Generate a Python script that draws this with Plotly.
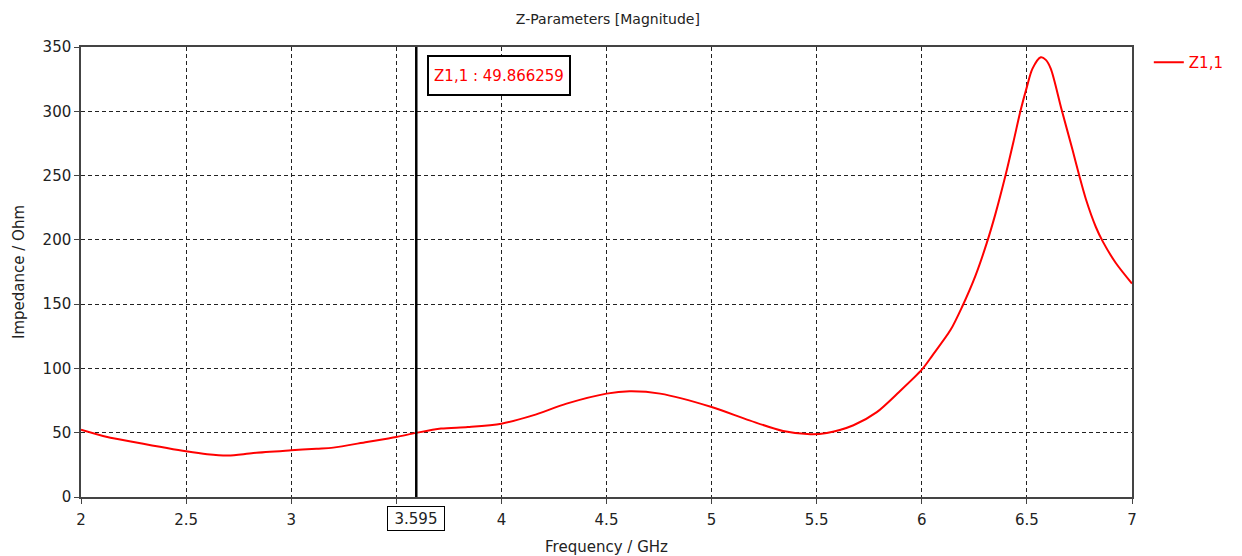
import plotly.graph_objects as go

# Data
freq_ghz = [2.0, 2.125, 2.25, 2.5, 2.6, 2.7, 2.82, 3.0, 3.12, 3.2, 3.36, 3.5, 3.595, 3.713,
            3.84, 4.0, 4.15, 4.31, 4.5, 4.61, 4.755, 5.0, 5.18, 5.34, 5.47, 5.548, 5.675,
            5.786, 5.892, 6.0, 6.05, 6.137, 6.192, 6.255, 6.31, 6.35, 6.398, 6.437, 6.469,
            6.5, 6.526, 6.566, 6.59, 6.614, 6.664, 6.717, 6.749, 6.78, 6.828, 6.86, 6.923, 7.0]
z11_ohm = [52.4, 46.7, 42.8, 35.5, 33.2, 32.2, 34.2, 36.3, 37.6, 38.4, 42.8, 46.7, 49.87, 53.2,
           54.4, 57, 63.5, 72.6, 80.4, 82.2, 80.4, 70, 59.6, 51.3, 48.8, 49.8, 55.8,
           66, 81.7, 99, 110, 130, 148, 172, 198, 220, 250, 277, 300,
           319, 333, 342, 340, 333, 302, 270, 250, 232, 210, 199, 182, 166]
series_name = "Z1,1"
marker_freq = 3.595
marker_value = 49.866259
x_ticks = [2, 2.5, 3, 3.5, 4, 4.5, 5, 5.5, 6, 6.5, 7]
x_tick_text = ["2", "2.5", "3", "", "4", "4.5", "5", "5.5", "6", "6.5", "7"]  # 3.5 is hidden under the cursor label
y_ticks = [0, 50, 100, 150, 200, 250, 300, 350]

FONT = "DejaVu Sans"
TXT = "#222222"

fig = go.Figure()
fig.add_trace(go.Scatter(
    x=freq_ghz, y=z11_ohm, mode="lines", name=series_name,
    line=dict(color="#ff0000", width=2, shape="spline", smoothing=0.8),
))

fig.add_shape(type="line", xref="x", yref="paper", x0=marker_freq, x1=marker_freq,
              y0=0, y1=1, line=dict(color="black", width=2.5))

fig.add_annotation(xref="paper", yref="paper", x=0.3977, y=0.9356,
                   xanchor="center", yanchor="middle",
                   text=f"{series_name} : {marker_value:.6f}", showarrow=False,
                   font=dict(family=FONT, size=15, color="#ff0000"),
                   bgcolor="white", bordercolor="black", borderwidth=2, borderpad=3,
                   width=134, height=31)

fig.add_annotation(xref="x", yref="paper", x=marker_freq, y=-0.0478,
                   xanchor="center", yanchor="middle",
                   text=f"{marker_freq:.3f}", showarrow=False,
                   font=dict(family=FONT, size=15, color=TXT),
                   bgcolor="white", bordercolor="black", borderwidth=1, borderpad=2,
                   width=52, height=19)

axis_common = dict(
    showgrid=True, gridcolor="#222", griddash="4px,3px", gridwidth=1,
    showline=True, linecolor="#444", linewidth=1.5, mirror=True,
    ticks="outside", ticklen=5, tickcolor="#444",
    tickfont=dict(family=FONT, size=15, color=TXT),
    zeroline=False, automargin=False,
)

fig.update_xaxes(range=[2, 7], tickvals=x_ticks, ticktext=x_tick_text, ticklabelstandoff=3,
                 title=dict(text="Frequency / GHz", font=dict(family=FONT, size=15, color=TXT), standoff=14),
                 **axis_common)
fig.update_yaxes(range=[0, 350], tickvals=y_ticks,
                 title=dict(text="Impedance / Ohm", font=dict(family=FONT, size=15, color=TXT), standoff=14),
                 **axis_common)

fig.update_layout(
    width=1242, height=556,
    margin=dict(l=73, r=118, t=39, b=67),
    paper_bgcolor="white", plot_bgcolor="white",
    title=dict(text="Z-Parameters [Magnitude]", x=0.483, xanchor="center", y=0.98, yanchor="middle",
               font=dict(family=FONT, size=14, color=TXT)),
    showlegend=True,
    legend=dict(x=1.016, y=1.002, xanchor="left", yanchor="top",
                font=dict(family=FONT, size=15, color="#ff0000"),
                bgcolor="rgba(0,0,0,0)", borderwidth=0),
)

fig.write_html("out.html")
